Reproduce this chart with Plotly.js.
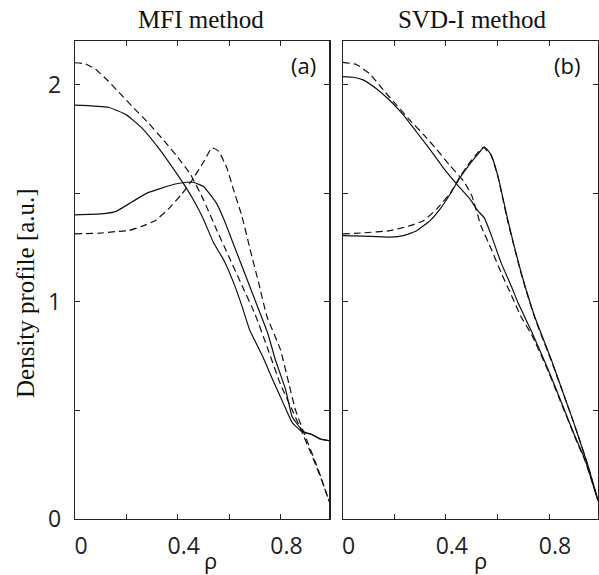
<!DOCTYPE html>
<html>
<head>
<meta charset="utf-8">
<script src="https://cdn.plot.ly/plotly-3.0.1.min.js"></script>
<style>html,body{margin:0;padding:0;background:#fff;}#chart{width:599px;height:575px;}</style>
</head>
<body>
<div id="chart"></div>
<script>
// ---------- Data ----------
// Panel (a): MFI method
const rhoA_dashPeak = [0,0.04,0.08,0.13,0.17,0.23,0.28,0.34,0.40,0.45,0.50,0.55,0.60,0.65,0.70,0.75,0.80,0.85,0.88,0.93,0.96,0.99];
const valA_dashPeak = [2.10,2.095,2.07,2.015,1.965,1.89,1.83,1.75,1.665,1.585,1.47,1.335,1.205,1.075,0.945,0.785,0.62,0.49,0.41,0.27,0.18,0.08];

const rhoA_solidPeak = [0,0.13,0.20,0.26,0.33,0.39,0.43,0.47,0.50,0.54,0.58,0.62,0.65,0.68,0.73,0.77,0.81,0.845,0.88,0.92,0.955,0.99];
const valA_solidPeak = [1.905,1.895,1.86,1.80,1.70,1.60,1.53,1.45,1.38,1.27,1.19,1.08,0.98,0.87,0.75,0.64,0.535,0.445,0.405,0.39,0.368,0.36];

const rhoA_solidHollow = [0,0.10,0.16,0.22,0.28,0.34,0.39,0.435,0.46,0.50,0.55,0.58,0.62,0.66,0.70,0.75,0.78,0.82,0.845,0.877,0.897,0.92,0.955,0.99];
const valA_solidHollow = [1.40,1.404,1.416,1.458,1.50,1.524,1.542,1.55,1.55,1.53,1.455,1.378,1.255,1.133,1.01,0.856,0.733,0.595,0.472,0.419,0.396,0.39,0.368,0.36];

const rhoA_dashHollow = [0,0.10,0.156,0.208,0.26,0.312,0.364,0.416,0.455,0.50,0.533,0.559,0.591,0.617,0.65,0.682,0.715,0.747,0.80,0.832,0.858,0.877,0.89,0.94,0.99];
const valA_dashHollow = [1.312,1.316,1.323,1.327,1.347,1.373,1.427,1.496,1.558,1.642,1.708,1.693,1.616,1.516,1.393,1.24,1.087,0.933,0.779,0.626,0.503,0.442,0.40,0.25,0.08];

// Panel (b): SVD-I method
const rhoB_dashPeak = [0,0.053,0.105,0.157,0.209,0.261,0.313,0.365,0.417,0.469,0.50,0.536,0.575,0.614,0.654,0.692,0.732,0.797,0.849,0.901,0.94,0.99];
const valB_dashPeak = [2.102,2.092,2.049,1.975,1.905,1.835,1.77,1.70,1.625,1.555,1.49,1.35,1.245,1.135,1.03,0.93,0.85,0.68,0.528,0.375,0.268,0.085];

const rhoB_solidPeak = [0,0.04,0.079,0.131,0.183,0.235,0.287,0.339,0.391,0.443,0.495,0.523,0.549,0.575,0.614,0.654,0.68,0.732,0.797,0.849,0.901,0.94,0.99];
const valB_solidPeak = [2.036,2.033,2.021,1.98,1.926,1.86,1.78,1.70,1.615,1.54,1.47,1.42,1.386,1.31,1.18,1.071,0.995,0.864,0.687,0.534,0.38,0.273,0.085];

const rhoB_solidHollow = [0,0.079,0.183,0.235,0.287,0.339,0.378,0.417,0.456,0.495,0.523,0.549,0.575,0.602,0.64,0.693,0.745,0.81,0.849,0.888,0.914,0.95,0.99];
const valB_solidHollow = [1.304,1.302,1.297,1.304,1.327,1.373,1.427,1.496,1.573,1.637,1.677,1.713,1.677,1.578,1.378,1.13,0.93,0.73,0.60,0.47,0.38,0.25,0.085];

const rhoB_dashHollow = [0,0.079,0.183,0.261,0.313,0.365,0.417,0.456,0.495,0.523,0.545,0.575,0.602,0.64,0.693,0.745,0.81,0.849,0.888,0.914,0.95,0.99];
const valB_dashHollow = [1.312,1.317,1.327,1.35,1.373,1.427,1.50,1.578,1.645,1.685,1.71,1.675,1.575,1.37,1.125,0.925,0.725,0.598,0.47,0.38,0.25,0.085];

const xTickVals = [0,0.2,0.4,0.6,0.8];
const xTickText = ['0','','0.4','','0.8'];
const yTickVals = [0,0.5,1,1.5,2];
const yTickText = ['0','','1','','2'];
const panelTitles = ['MFI method','SVD-I method'];
const panelTags = ['(a)','(b)'];
const yTitle = 'Density profile [a.u.]';
const xTitle = 'ρ';

// ---------- Traces ----------
const solid = {color:'#111', width:1.2, dash:'solid', shape:'spline', smoothing:0.4};
const dashed = {color:'#111', width:1.2, dash:'7px,4px', shape:'spline', smoothing:0.4};
function tr(x,y,line,xa,ya){return {x:x,y:y,mode:'lines',line:line,xaxis:xa,yaxis:ya,hoverinfo:'skip',showlegend:false};}
const data = [
  tr(rhoA_dashPeak,valA_dashPeak,dashed,'x','y'),
  tr(rhoA_solidPeak,valA_solidPeak,solid,'x','y'),
  tr(rhoA_solidHollow,valA_solidHollow,solid,'x','y'),
  tr(rhoA_dashHollow,valA_dashHollow,dashed,'x','y'),
  tr(rhoB_dashPeak,valB_dashPeak,dashed,'x2','y2'),
  tr(rhoB_solidPeak,valB_solidPeak,solid,'x2','y2'),
  tr(rhoB_solidHollow,valB_solidHollow,solid,'x2','y2'),
  tr(rhoB_dashHollow,valB_dashHollow,dashed,'x2','y2')
];

const tickFont = {family:'Open Sans, Noto Sans, sans-serif', size:23, color:'#222'};
function xax(domain, anchor){return {domain:domain, anchor:anchor, range:[0,0.99], tickvals:xTickVals, ticktext:xTickText,
  ticks:'inside', ticklen:5, tickcolor:'#222', showline:true, linecolor:'#222', linewidth:1.2, mirror:'ticks',
  showgrid:false, zeroline:false, tickfont:tickFont, ticklabelshift:6, ticklabelstandoff:6, fixedrange:true};}
function yax(anchor, labels){return {domain:[0,1], anchor:anchor, range:[0,2.2], tickvals:yTickVals, ticktext:yTickText,
  ticks:'inside', ticklen:5, tickcolor:'#222', showline:true, linecolor:'#222', linewidth:1.2, mirror:'ticks',
  showgrid:false, zeroline:false, tickfont:tickFont, showticklabels:labels, ticklabelstandoff:8, fixedrange:true};}

const W = 599, H = 575, mL = 75, mR = 1, mT = 41, mB = 56;
const pw = W - mL - mR, ph = H - mT - mB;
const px = v => (v - mL) / pw;
const py = v => (H - mB - v) / ph;

const serif = {family:'Liberation Serif, Times New Roman, serif', size:25, color:'#111'};
const sans = {family:'Open Sans, Noto Sans, sans-serif', size:22, color:'#111'};

const annotations = [
  {text:panelTitles[0], x:px(201), y:py(19), font:serif},
  {text:panelTitles[1], x:px(472), y:py(19), font:serif},
  {text:panelTags[0], x:px(303), y:py(65), font:sans},
  {text:panelTags[1], x:px(567), y:py(65), font:sans},
  {text:xTitle, x:px(210), y:py(560), font:sans},
  {text:xTitle, x:px(480), y:py(560), font:sans},
  {text:yTitle, x:px(25), y:py(293), textangle:-90, font:serif}
].map(a => Object.assign({xref:'paper', yref:'paper', showarrow:false, xanchor:'center', yanchor:'middle'}, a));

const layout = {
  width:W, height:H, margin:{l:mL, r:mR, t:mT, b:mB},
  paper_bgcolor:'#fff', plot_bgcolor:'#fff', showlegend:false,
  xaxis: xax([0, px(329.3)], 'y'),
  yaxis: yax('x', true),
  xaxis2: xax([px(342.7), 1], 'y2'),
  yaxis2: yax('x2', false),
  annotations: annotations
};

Plotly.newPlot('chart', data, layout, {staticPlot:true, displayModeBar:false});
</script>
</body>
</html>
